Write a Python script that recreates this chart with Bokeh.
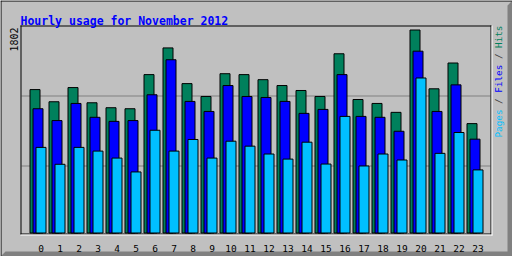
import numpy as np
from bokeh.plotting import figure
from bokeh.models import Range1d
from bokeh.core.properties import value
from bokeh.embed import file_html
from bokeh.resources import INLINE

# ---------------- data ----------------
TITLE = "Hourly usage for November 2012"
HOURS = list(range(24))
HOUR_LABELS = [str(h) for h in HOURS]
HITS = [1273, 1165, 1291, 1156, 1112, 1103, 1406, 1643, 1326, 1212, 1414, 1406,
        1361, 1309, 1265, 1212, 1591, 1185, 1150, 1071, 1802, 1280, 1509, 971]
FILES = [1103, 998, 1150, 1027, 991, 998, 1227, 1538, 1168, 1079, 1309, 1212,
         1203, 1168, 1062, 1097, 1406, 1035, 1027, 903, 1614, 1079, 1315, 833]
PAGES = [760, 610, 760, 727, 665, 542, 912, 727, 830, 665, 815, 771,
         701, 656, 806, 612, 1035, 595, 701, 648, 1376, 707, 892, 560]
Y_MAX = 1802
Y_MAX_LABEL = "1802"
LEGEND = [("Pages", "#00C0FF"), (" / ", "#404040"), ("Files", "#0000FF"),
          (" / ", "#404040"), ("Hits", "#00805C")]

# ---------------- style / layout ----------------
W, H = 512, 256
BG = "#C0C0C0"
SHADOW = "#808080"
C_HITS, C_FILES, C_PAGES = "#00805C", "#0000FF", "#00C0FF"
MONO = value("DejaVu Sans Mono")

X0 = 40.5      # pixel centre of the front bar of hour 0
STEP = 19      # pixels per hour
BAR_W = 10
OFF = 3
BASE_Y = 232.5  # pixel row of value 0
TOP_Y = 29.5    # pixel row of Y_MAX
K = (BASE_Y - TOP_Y) / Y_MAX

p = figure(width=W, height=H, x_range=Range1d(0, W), y_range=Range1d(H, 0),
           min_border=0, toolbar_location=None, output_backend="svg",
           x_axis_type=None, y_axis_type=None,
           background_fill_color=BG, border_fill_color=BG,
           outline_line_color=None)
p.extra_x_ranges = {"hour": Range1d(-X0 / STEP, (W - X0) / STEP)}
p.extra_y_ranges = {"val": Range1d(-(H - BASE_Y) / K, BASE_Y / K)}

# outer frame: black top/left, dark bevelled shadow right/bottom
p.patch(x=[507, 512, 512, 0, 5, 507], y=[5, 0, 256, 256, 251, 251],
        fill_color=SHADOW, line_color=None)
p.multi_line(xs=[[0, 512], [0.5, 0.5]], ys=[[0.5, 0.5], [0, 256]],
             line_color="black", line_width=1)

# grid lines (thirds of the plot area)
p.multi_line(xs=[[21, 490], [21, 490]], ys=[[95.5, 95.5], [165.5, 165.5]],
             line_color=SHADOW, line_width=1)

# bars: hits, files, pages
hours = np.array(HOURS, dtype=float)
for vals, color, off in [(HITS, C_HITS, -2 * OFF), (FILES, C_FILES, -OFF), (PAGES, C_PAGES, 0)]:
    p.vbar(x=hours + off / STEP, top=vals, bottom=0, width=BAR_W / STEP,
           fill_color=color, line_color="black", line_width=1,
           x_range_name="hour", y_range_name="val")

# plot area border
p.multi_line(xs=[[20, 491], [20.5, 20.5], [490.5, 490.5], [20, 491]],
             ys=[[25.5, 25.5], [25, 234], [25, 234], [233.5, 233.5]],
             line_color="black", line_width=1)
p.multi_line(xs=[[491.5, 491.5], [20, 492]], ys=[[25, 235], [234.5, 234.5]],
             line_color="white", line_width=1)

# hour labels
p.text(x=HOURS, y=[248] * 24, text=HOUR_LABELS, x_range_name="hour",
       text_font=MONO, text_font_size="9.5px", text_color="black",
       text_align="center", text_baseline="alphabetic")

# title
p.text(x=[20], y=[20], text=[TITLE], text_font=MONO, text_font_size="11.5px",
       text_font_style="bold", text_color="#0000FF",
       text_align="left", text_baseline="alphabetic")

# max label
p.text(x=[13.5], y=[27], text=[Y_MAX_LABEL], angle=np.pi / 2,
       text_font=MONO, text_font_size="10px", text_color="black",
       text_align="right", text_baseline="middle")

# right legend text (each piece placed by its character offset)
fs = 9.3
adv = fs * 0.602
idx = 0
for seg, col in LEGEND:
    lead = len(seg) - len(seg.lstrip())
    p.text(x=[498], y=[137 - (idx + lead) * adv], text=[seg.strip()], angle=np.pi / 2,
           text_font=MONO, text_font_size=f"{fs}px", text_color=col,
           text_align="left", text_baseline="middle")
    idx += len(seg)

open("out.html", "w").write(file_html(p, INLINE))
